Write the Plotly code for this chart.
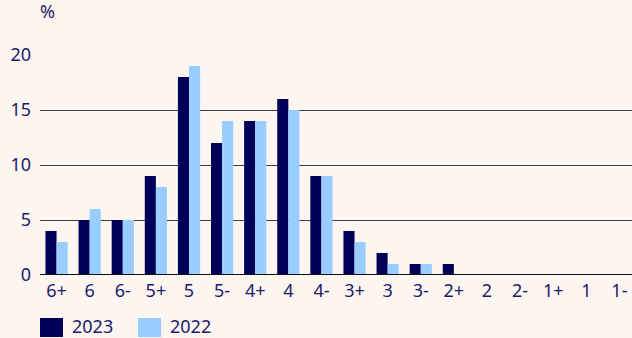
import plotly.graph_objects as go

grades = ["6+", "6", "6-", "5+", "5", "5-", "4+", "4", "4-", "3+", "3", "3-",
          "2+", "2", "2-", "1+", "1", "1-"]
share_2023 = [4, 5, 5, 9, 18, 12, 14, 16, 9, 4, 2, 1, 1, 0, 0, 0, 0, 0]
share_2022 = [3, 6, 5, 8, 19, 14, 14, 15, 9, 3, 1, 1, 0, 0, 0, 0, 0, 0]
y_ticks = [0, 5, 10, 15, 20]

navy = "#000058"
light = "#99CCFF"
ink = "#1B1B6B"
bg = "#FDF5F0"
font = "Noto Sans"
fsize = 18

fig = go.Figure()
fig.add_trace(go.Bar(x=list(range(len(grades))), y=share_2023, name="2023",
                     marker=dict(color=navy, line=dict(width=0))))
fig.add_trace(go.Bar(x=list(range(len(grades))), y=share_2022, name="2022",
                     marker=dict(color=light, line=dict(width=0))))

fig.update_layout(
    width=632, height=338,
    margin=dict(l=40, r=0, t=55, b=63),
    paper_bgcolor=bg, plot_bgcolor=bg,
    barmode="group", bargap=0.33, bargroupgap=0,
    showlegend=False,
    font=dict(family=font, size=fsize, color=ink),
)
fig.update_xaxes(
    tickmode="array", tickvals=list(range(len(grades))), ticktext=grades,
    range=[-0.5, 17.38], showgrid=False, zeroline=False,
    showline=False, ticks="", ticklabelstandoff=3,
    tickfont=dict(family=font, size=fsize, color=ink),
)
fig.update_yaxes(
    range=[0, 20], tickvals=y_ticks, showgrid=True, gridcolor="#3F3F3F",
    gridwidth=1, zeroline=False, showline=False, ticks="",
    ticklabelstandoff=8,
    tickfont=dict(family=font, size=fsize, color=ink),
)
# baseline
fig.add_shape(type="line", xref="paper", yref="y", x0=0, x1=1, y0=0, y1=0,
              line=dict(color="#111111", width=2))

# unit label
fig.add_annotation(text="%", xref="paper", yref="paper", x=0.0, y=1.0,
                   yshift=30, xshift=-2, showarrow=False, xanchor="left",
                   yanchor="bottom", font=dict(family=font, size=fsize, color=ink))

# legend swatches
legend_items = [("2023", navy, 0), ("2022", light, 98)]
for label, color, dx in legend_items:
    fig.add_shape(type="rect", xref="paper", yref="paper",
                  x0=(dx) / 592, x1=(dx + 23) / 592,
                  y0=-62 / 220, y1=-43 / 220,
                  line=dict(width=0), fillcolor=color)
    fig.add_annotation(text=label, xref="paper", yref="paper",
                       x=(dx + 30) / 592, y=-51 / 220, showarrow=False,
                       xanchor="left", yanchor="middle",
                       font=dict(family=font, size=fsize, color=ink))

fig.write_html("out.html")
